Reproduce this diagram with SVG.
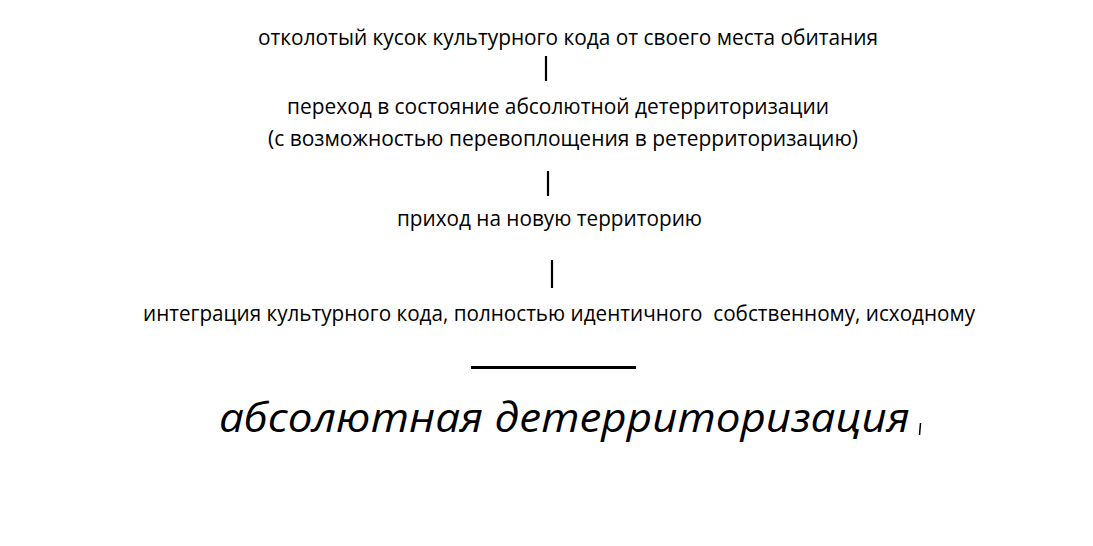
<svg xmlns="http://www.w3.org/2000/svg" width="1093" height="546" viewBox="0 0 1093 546">
<style>
.t{font-family:"Open Sans","Noto Sans","DejaVu Sans",sans-serif;font-size:22px;fill:#000}
.big{font-family:"Open Sans","Noto Sans","DejaVu Sans",sans-serif;font-size:41px;font-style:italic;fill:#000}
.bar{stroke:#000;stroke-width:2.2;fill:none}
</style>
<rect width="1093" height="546" fill="#fff"/>
<g id="n1"><text class="t" x="258" y="45" textLength="620" lengthAdjust="spacingAndGlyphs">отколотый кусок культурного кода от своего места обитания</text></g>
<g id="n2"><text class="t" x="287" y="114" textLength="542" lengthAdjust="spacingAndGlyphs">переход в состояние абсолютной детерриторизации</text>
<text class="t" x="268" y="146" textLength="590" lengthAdjust="spacingAndGlyphs">(с возможностью перевоплощения в ретерриторизацию)</text></g>
<g id="n3"><text class="t" x="397" y="226" textLength="305" lengthAdjust="spacingAndGlyphs">приход на новую территорию</text></g>
<g id="n4"><text class="t" x="143" y="321" textLength="832" lengthAdjust="spacingAndGlyphs" xml:space="preserve">интеграция культурного кода, полностью идентичного  собственному, исходному</text></g>
<g id="connectors">
<line class="bar" x1="546" y1="56" x2="546" y2="81"/>
<line class="bar" x1="548" y1="171" x2="548" y2="196"/>
<line class="bar" x1="552" y1="260" x2="552" y2="288"/>
<line x1="471" y1="367.5" x2="636" y2="367.5" stroke="#000" stroke-width="3"/>
</g>
<g id="result"><text class="big" x="219" y="432" textLength="691" lengthAdjust="spacingAndGlyphs">абсолютная детерриторизация</text>
<line x1="920.5" y1="423" x2="919.5" y2="435" stroke="#000" stroke-width="1.5"/></g>
</svg>
